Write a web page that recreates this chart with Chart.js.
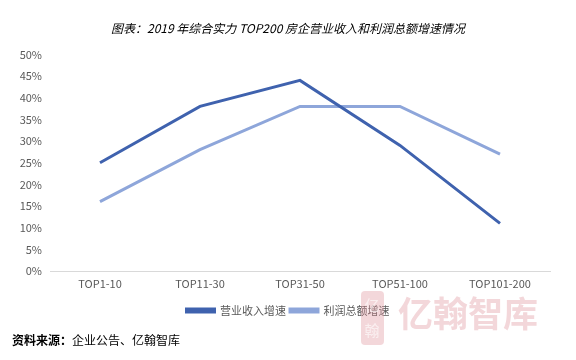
<!DOCTYPE html>
<html>
<head>
<meta charset="utf-8">
<script src="https://cdn.jsdelivr.net/npm/chart.js@4"></script>
<style>
  html, body { margin: 0; padding: 0; background: #ffffff; }
  #wrap { position: relative; width: 576px; height: 360px; }
  #source {
    position: absolute; left: 12px; top: 331px;
    font: 12px "Noto Sans CJK SC", sans-serif; color: #000;
  }
  #source b { font-weight: 700; }
</style>
</head>
<body>
<div id="wrap">
  <canvas id="growthChart" width="576" height="360"></canvas>
  <div id="source"><b>资料来源：</b>企业公告、亿翰智库</div>
</div>
<script>
// categories and series (percent)
const categories = ['TOP1-10', 'TOP11-30', 'TOP31-50', 'TOP51-100', 'TOP101-200'];
const revenueGrowth = [25, 38, 44, 29, 11];
const profitGrowth = [16, 28, 38, 38, 27];
const titleText = '图表：2019 年综合实力 TOP200 房企营业收入和利润总额增速情况';

const colors = {
  revenue: '#3F62AE',
  profit: '#8EA6DA',
  tick: '#595959',
  axis: '#D9D9D9',
  mark: 'rgba(222, 140, 148, 0.35)'
};
const cjk = '"Noto Sans CJK SC", sans-serif';

// faint logo watermark in the bottom right corner
const watermark = {
  id: 'watermark',
  afterDraw(chart) {
    const ctx = chart.ctx;
    ctx.save();
    ctx.fillStyle = colors.mark;
    ctx.beginPath();
    ctx.roundRect(361, 291, 23, 54, 4);
    ctx.fill();
    ctx.fillStyle = 'rgba(255,255,255,0.6)';
    ctx.font = '15px ' + cjk;
    ctx.textAlign = 'center';
    ctx.textBaseline = 'middle';
    ctx.fillText('亿', 372, 305);
    ctx.fillText('翰', 372, 330);
    ctx.fillStyle = colors.mark;
    ctx.font = 'bold 35px ' + cjk;
    ctx.textAlign = 'left';
    ctx.fillText('亿翰智库', 398, 314);
    ctx.restore();
  }
};

new Chart(document.getElementById('growthChart').getContext('2d'), {
  type: 'line',
  data: {
    labels: categories,
    datasets: [
      {
        label: '营业收入增速',
        data: revenueGrowth,
        borderColor: colors.revenue,
        backgroundColor: colors.revenue,
        borderWidth: 3,
        pointRadius: 0,
        tension: 0,
        fill: false
      },
      {
        label: '利润总额增速',
        data: profitGrowth,
        borderColor: colors.profit,
        backgroundColor: colors.profit,
        borderWidth: 3,
        pointRadius: 0,
        tension: 0,
        fill: false
      }
    ]
  },
  options: {
    responsive: false,
    animation: false,
    layout: { padding: { left: 0, right: 0, top: 0, bottom: 34 } },
    plugins: {
      title: {
        display: true,
        text: titleText,
        color: '#000000',
        font: { family: cjk, size: 12, style: 'italic', weight: 'normal' },
        padding: { top: 21, bottom: 19 }
      },
      legend: {
        position: 'bottom',
        labels: {
          color: colors.tick,
          font: { family: cjk, size: 11 },
          boxWidth: 28,
          boxHeight: 3,
          padding: 4
        }
      },
      tooltip: { enabled: false }
    },
    scales: {
      x: {
        offset: true,
        grid: { display: false, drawTicks: false },
        border: { color: colors.axis, width: 1 },
        ticks: { color: colors.tick, font: { family: cjk, size: 11 }, padding: 6 },
        afterFit: (s) => { s.height = 30; }
      },
      y: {
        min: 0,
        max: 50,
        grid: { display: false, drawTicks: false },
        border: { display: false },
        ticks: {
          stepSize: 5,
          color: colors.tick,
          font: { family: cjk, size: 11 },
          padding: 8,
          callback: (v) => v + '%'
        },
        afterFit: (s) => { s.width = 50; }
      },
      // empty right axis keeps a margin on the right so title and legend stay centred on the page
      yRight: {
        position: 'right',
        grid: { display: false, drawTicks: false },
        border: { display: false },
        ticks: { display: false },
        afterFit: (s) => { s.width = 26; }
      }
    }
  },
  plugins: [watermark]
});
</script>
</body>
</html>
